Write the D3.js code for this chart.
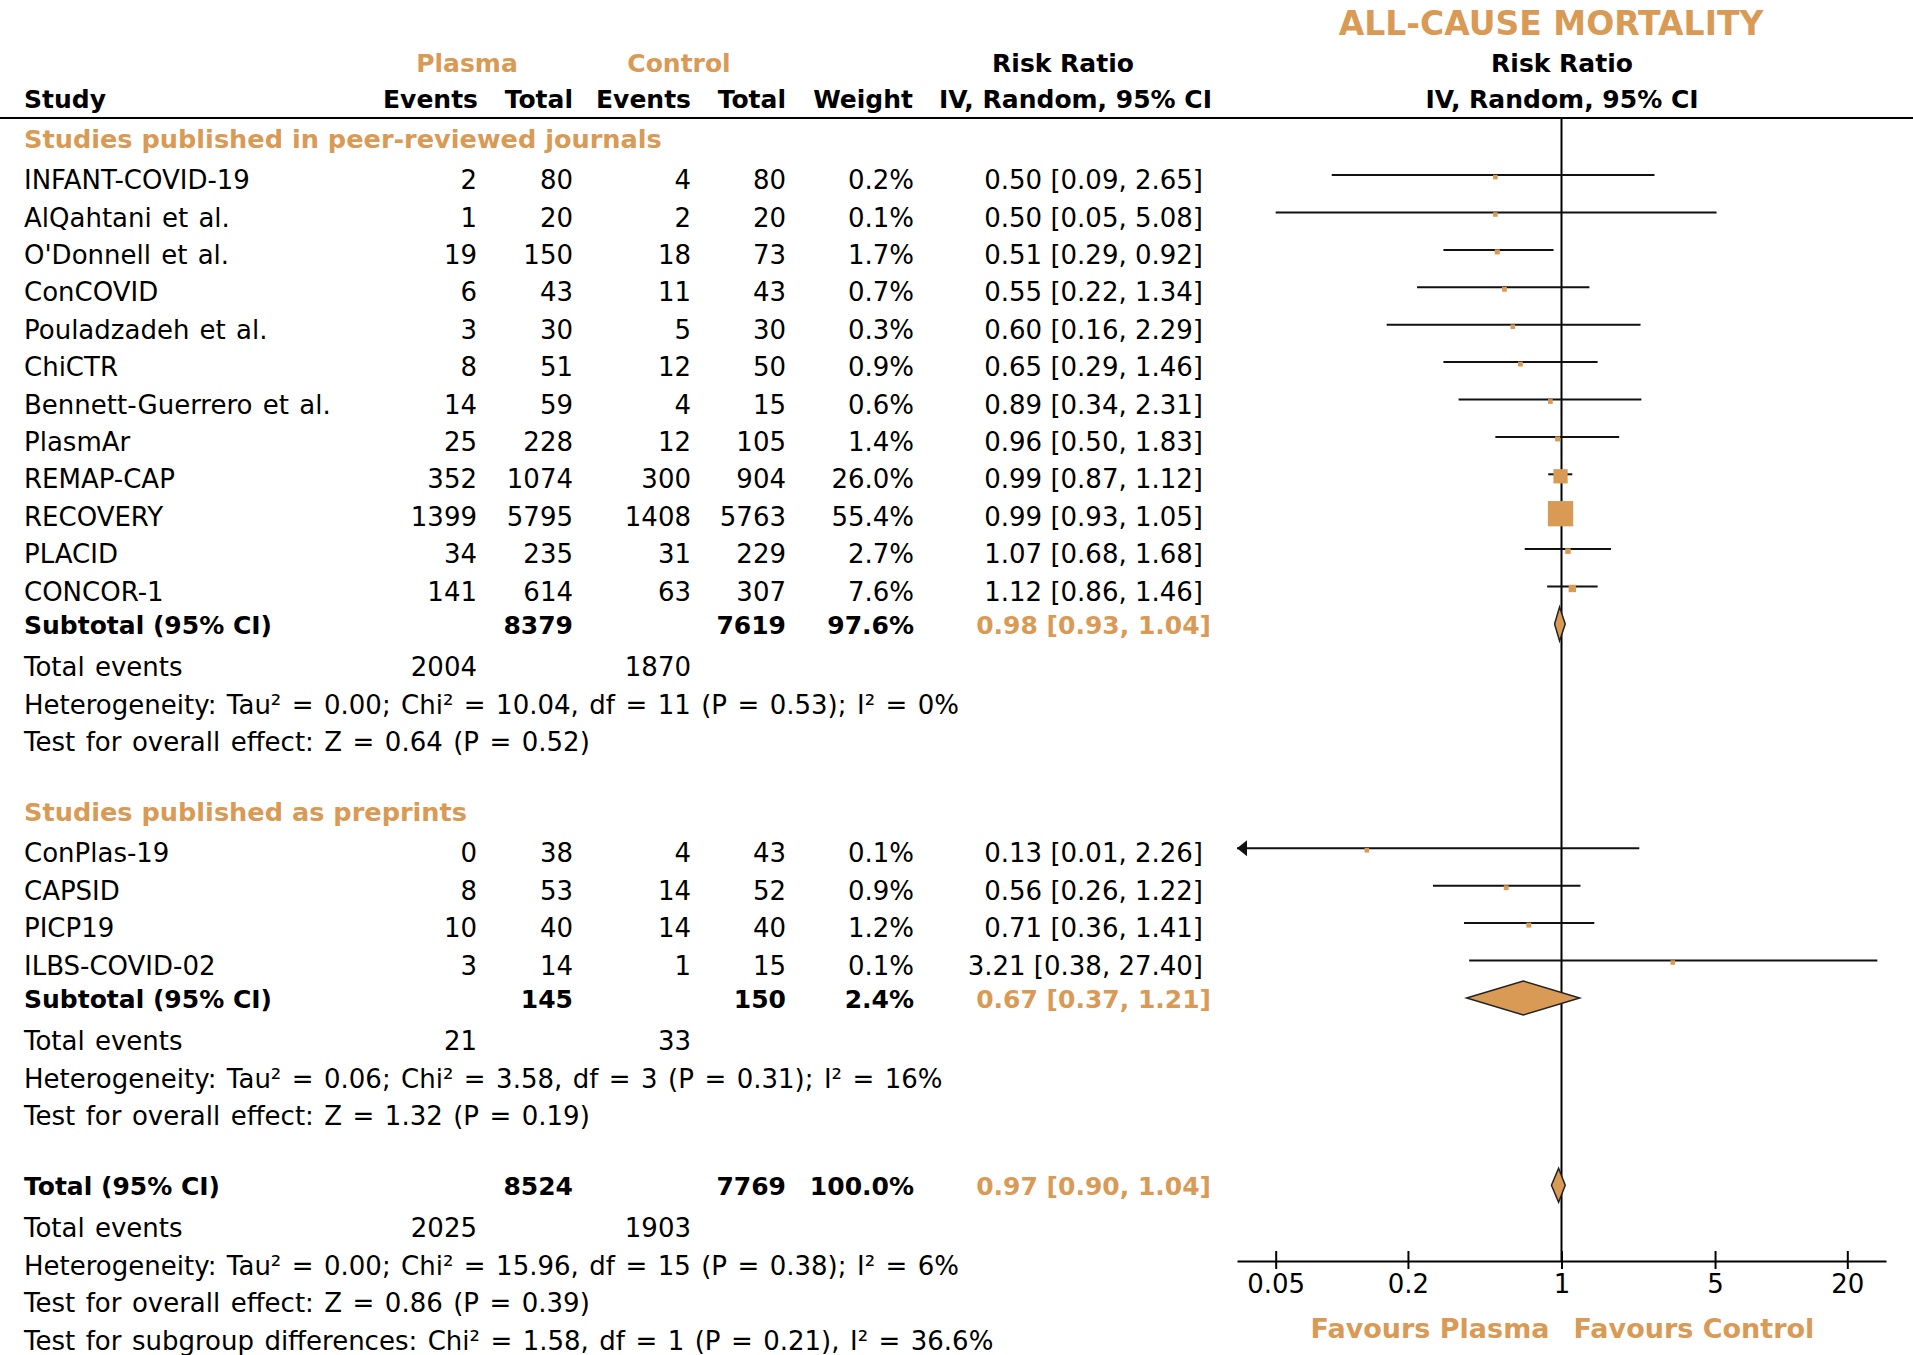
<!DOCTYPE html>
<html>
<head>
<meta charset="utf-8">
<script src="https://cdn.jsdelivr.net/npm/d3@7"></script>
<style>
  body { margin: 0; background: #fff; }
  text { font-family: 'DejaVu Sans', 'Lucida Grande', sans-serif; fill: #000; }
</style>
</head>
<body>
<div id="chart"></div>
<script>
// ---- data ----
const groupLabels = ['Studies published in peer-reviewed journals', 'Studies published as preprints']

const studies = ['INFANT-COVID-19', 'AlQahtani et al.', "O'Donnell et al.", 'ConCOVID',
  'Pouladzadeh et al.', 'ChiCTR', 'Bennett-Guerrero et al.', 'PlasmAr', 'REMAP-CAP',
  'RECOVERY', 'PLACID', 'CONCOR-1', 'ConPlas-19', 'CAPSID', 'PICP19', 'ILBS-COVID-02']
const studyGroup = [0, 0, 0, 0, 0, 0, 0, 0, 0, 0, 0, 0, 1, 1, 1, 1]
const plasmaEvents = [2, 1, 19, 6, 3, 8, 14, 25, 352, 1399, 34, 141, 0, 8, 10, 3]
const plasmaTotal = [80, 20, 150, 43, 30, 51, 59, 228, 1074, 5795, 235, 614, 38, 53, 40, 14]
const controlEvents = [4, 2, 18, 11, 5, 12, 4, 12, 300, 1408, 31, 63, 4, 14, 14, 1]
const controlTotal = [80, 20, 73, 43, 30, 50, 15, 105, 904, 5763, 229, 307, 43, 52, 40, 15]
const weights = [0.2, 0.1, 1.7, 0.7, 0.3, 0.9, 0.6, 1.4, 26.0, 55.4, 2.7, 7.6, 0.1, 0.9, 1.2, 0.1]
const rr = [0.50, 0.50, 0.51, 0.55, 0.60, 0.65, 0.89, 0.96, 0.99, 0.99, 1.07, 1.12, 0.13, 0.56, 0.71, 3.21]
const rrLow = [0.09, 0.05, 0.29, 0.22, 0.16, 0.29, 0.34, 0.50, 0.87, 0.93, 0.68, 0.86, 0.01, 0.26, 0.36, 0.38]
const rrHigh = [2.65, 5.08, 0.92, 1.34, 2.29, 1.46, 2.31, 1.83, 1.12, 1.05, 1.68, 1.46, 2.26, 1.22, 1.41, 27.40]

// subgroup summaries
const subPlasmaTotal = [8379, 145]
const subControlTotal = [7619, 150]
const subWeight = [97.6, 2.4]
const subRR = [0.98, 0.67]
const subLow = [0.93, 0.37]
const subHigh = [1.04, 1.21]
const subEventsPlasma = [2004, 21]
const subEventsControl = [1870, 33]
const subHeterogeneity = [
  'Heterogeneity: Tau² = 0.00; Chi² = 10.04, df = 11 (P = 0.53); I² = 0%',
  'Heterogeneity: Tau² = 0.06; Chi² = 3.58, df = 3 (P = 0.31); I² = 16%'
]
const subOverall = [
  'Test for overall effect: Z = 0.64 (P = 0.52)',
  'Test for overall effect: Z = 1.32 (P = 0.19)'
]

// overall summary
const totalPlasma = 8524
const totalControl = 7769
const totalWeight = 100.0
const totalRR = [0.97, 0.90, 1.04]
const totalEvents = [2025, 1903]
const totalNotes = [
  'Heterogeneity: Tau² = 0.00; Chi² = 15.96, df = 15 (P = 0.38); I² = 6%',
  'Test for overall effect: Z = 0.86 (P = 0.39)',
  'Test for subgroup differences: Chi² = 1.58, df = 1 (P = 0.21), I² = 36.6%'
]

const tickValues = [0.05, 0.2, 1, 5, 20]
const favours = ['Favours Plasma', 'Favours Control']
const title = 'ALL-CAUSE MORTALITY'

// ---- layout ----
const width = 1913
const height = 1355
const orange = '#d99a55'
const fs = 26       // regular text
const fsBold = 25   // bold text

const col = { name: 24, pe: 477, pt: 573, ce: 691, ct: 786, w: 914, rr: 1203, rrBold: 1211 }
const headerLineY = 118
const axisY = 1261

const svg = d3.select('#chart')
  .append('svg')
    .attr('width', width)
    .attr('height', height)

const x = d3.scaleLog().domain([1 / 30, 30]).range([1237, 1886])
const boxSize = d3.scaleLinear().domain([0, d3.max(weights)]).range([4.5, 25.3])

const f2 = d3.format('.2f')
const f1 = d3.format('.1f')
const rrText = (r, l, h) => f2(r) + ' [' + f2(l) + ', ' + f2(h) + ']'

function txt(g, xx, y, s, opts) {
  opts = opts || {}
  const t = g.append('text')
    .attr('x', xx)
    .attr('y', y)
    .attr('text-anchor', opts.anchor || 'start')
    .attr('font-size', opts.bold ? (opts.size || fsBold) : (opts.size || fs))
    .attr('font-weight', opts.bold ? 'bold' : 'normal')
    .style('fill', opts.color || '#000')
    .text(s)
  if (opts.spacing) t.style('word-spacing', opts.spacing + 'px')
  return t
}

// ---- header ----
const head = svg.append('g')
txt(head, 1551, 35, title, { bold: true, size: 33, anchor: 'middle', color: orange })
txt(head, 467, 72, 'Plasma', { bold: true, anchor: 'middle', color: orange })
txt(head, 679, 72, 'Control', { bold: true, anchor: 'middle', color: orange })
txt(head, 1063, 72, 'Risk Ratio', { bold: true, anchor: 'middle' })
txt(head, 1562, 72, 'Risk Ratio', { bold: true, anchor: 'middle' })
txt(head, col.name, 108, 'Study', { bold: true })
txt(head, col.pe + 1, 108, 'Events', { bold: true, anchor: 'end' })
txt(head, col.pt, 108, 'Total', { bold: true, anchor: 'end' })
txt(head, col.ce, 108, 'Events', { bold: true, anchor: 'end' })
txt(head, col.ct, 108, 'Total', { bold: true, anchor: 'end' })
txt(head, col.w - 1, 108, 'Weight', { bold: true, anchor: 'end' })
txt(head, 1212, 108, 'IV, Random, 95% CI', { bold: true, anchor: 'end' })
txt(head, 1562, 108, 'IV, Random, 95% CI', { bold: true, anchor: 'middle' })

svg.append('line')
  .attr('x1', 0).attr('x2', width)
  .attr('y1', headerLineY).attr('y2', headerLineY)
  .attr('stroke', '#000').attr('stroke-width', 2.2)

// ---- rows ----
const lines = []
groupLabels.forEach((label, gi) => {
  lines.push({ type: 'group', label: label })
  studies.forEach((s, i) => { if (studyGroup[i] === gi) lines.push({ type: 'study', i: i }) })
  lines.push({ type: 'subtotal', label: 'Subtotal (95% CI)', pt: subPlasmaTotal[gi], ct: subControlTotal[gi],
    w: subWeight[gi], r: subRR[gi], lo: subLow[gi], hi: subHigh[gi] })
  lines.push({ type: 'events', pe: subEventsPlasma[gi], ce: subEventsControl[gi] })
  lines.push({ type: 'note', text: subHeterogeneity[gi] })
  lines.push({ type: 'note', text: subOverall[gi] })
})
lines.push({ type: 'total', label: 'Total (95% CI)', pt: totalPlasma, ct: totalControl,
  w: totalWeight, r: totalRR[0], lo: totalRR[1], hi: totalRR[2] })
lines.push({ type: 'events', pe: totalEvents[0], ce: totalEvents[1] })
totalNotes.forEach(t => lines.push({ type: 'note', text: t }))

// vertical spacing between baselines
function gap(prev, cur) {
  if (cur === 'study') return prev === 'group' ? 41.6 : 37.4
  if (cur === 'subtotal') return 33
  if (cur === 'events') return 42.5
  if (cur === 'group' || cur === 'total') return 69.7
  return 37.5
}
let yCursor = 147.5
lines.forEach((d, k) => {
  if (k > 0) yCursor += gap(lines[k - 1].type, d.type)
  d.y = yCursor
})

// line of no effect
svg.append('line')
  .attr('x1', x(1)).attr('x2', x(1))
  .attr('y1', headerLineY).attr('y2', axisY)
  .attr('stroke', '#000').attr('stroke-width', 2)

const rows = svg.append('g')
const plot = svg.append('g')

lines.forEach(d => {
  if (d.type === 'group') {
    txt(rows, col.name, d.y, d.label, { bold: true, size: 25.6, color: orange })
  } else if (d.type === 'study') {
    const i = d.i
    txt(rows, col.name, d.y, studies[i], { spacing: 2 })
    txt(rows, col.pe, d.y, plasmaEvents[i], { anchor: 'end' })
    txt(rows, col.pt, d.y, plasmaTotal[i], { anchor: 'end' })
    txt(rows, col.ce, d.y, controlEvents[i], { anchor: 'end' })
    txt(rows, col.ct, d.y, controlTotal[i], { anchor: 'end' })
    txt(rows, col.w, d.y, f1(weights[i]) + '%', { anchor: 'end' })
    txt(rows, col.rr, d.y, rrText(rr[i], rrLow[i], rrHigh[i]), { anchor: 'end' })

    const ly = d.y - 14
    const dom = x.domain()
    const x0 = rrLow[i] < dom[0] ? x.range()[0] : x(rrLow[i])
    const x1 = rrHigh[i] > dom[1] ? x.range()[1] : x(rrHigh[i])
    plot.append('line')
      .attr('x1', x0).attr('x2', x1)
      .attr('y1', ly).attr('y2', ly)
      .attr('stroke', '#111').attr('stroke-width', 2)
    if (rrLow[i] < dom[0]) {
      plot.append('path')
        .attr('d', 'M' + x0 + ',' + ly + 'L' + (x0 + 10) + ',' + (ly - 8) + 'L' + (x0 + 10) + ',' + (ly + 8) + 'Z')
        .attr('fill', '#111')
    }
    const s = boxSize(weights[i])
    plot.append('rect')
      .attr('x', x(rr[i]) - s / 2)
      .attr('y', ly + 2 - s / 2)
      .attr('width', s).attr('height', s)
      .attr('fill', orange)
  } else if (d.type === 'subtotal' || d.type === 'total') {
    txt(rows, col.name, d.y, d.label, { bold: true })
    txt(rows, col.pt, d.y, d.pt, { bold: true, anchor: 'end' })
    txt(rows, col.ct, d.y, d.ct, { bold: true, anchor: 'end' })
    txt(rows, col.w, d.y, f1(d.w) + '%', { bold: true, anchor: 'end' })
    txt(rows, col.rrBold, d.y, rrText(d.r, d.lo, d.hi), { bold: true, anchor: 'end', color: orange })

    const cy = d.y - 9.5
    const h = 17
    plot.append('path')
      .attr('d', 'M' + x(d.lo) + ',' + cy + 'L' + x(d.r) + ',' + (cy - h) +
                 'L' + x(d.hi) + ',' + cy + 'L' + x(d.r) + ',' + (cy + h) + 'Z')
      .attr('fill', orange)
      .attr('stroke', '#222')
      .attr('stroke-width', 1.5)
  } else if (d.type === 'events') {
    txt(rows, col.name, d.y, 'Total events', { spacing: 2 })
    txt(rows, col.pe, d.y, d.pe, { anchor: 'end' })
    txt(rows, col.ce, d.y, d.ce, { anchor: 'end' })
  } else {
    txt(rows, col.name, d.y, d.text, { spacing: 2.2 })
  }
})

// ---- axis ----
const axis = d3.axisBottom(x)
  .tickValues(tickValues)
  .tickFormat(d => String(d))
  .tickSizeOuter(0)

const ax = svg.append('g')
  .attr('transform', 'translate(0,' + axisY + ')')
  .call(axis)

ax.select('.domain').attr('stroke', '#000').attr('stroke-width', 2)
ax.selectAll('.tick line').attr('y1', -10).attr('y2', 8).attr('stroke', '#000').attr('stroke-width', 2)
ax.selectAll('.tick text')
  .attr('y', 32).attr('dy', null)
  .attr('font-size', fs)
  .attr('font-family', "'DejaVu Sans', sans-serif")
  .style('fill', '#000')

txt(svg, x(1) - 12, 1338, favours[0], { bold: true, size: 27, anchor: 'end', color: orange })
txt(svg, x(1) + 12, 1338, favours[1], { bold: true, size: 27, anchor: 'start', color: orange })
</script>
</body>
</html>
